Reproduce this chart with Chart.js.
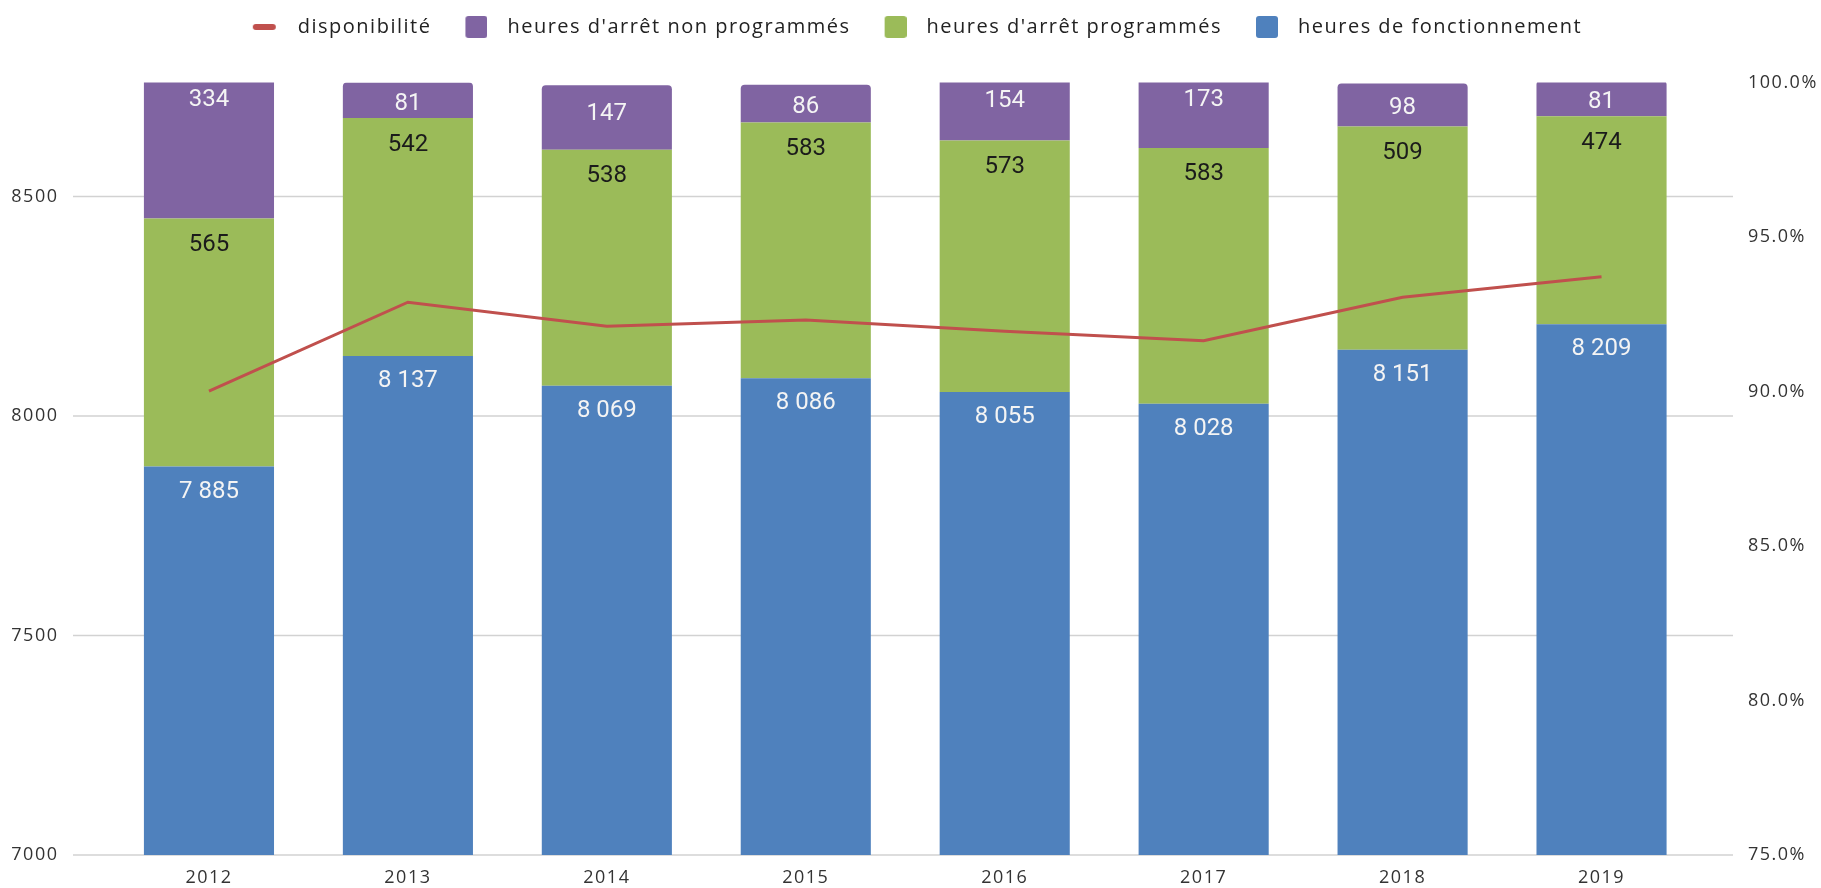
<!DOCTYPE html>
<html lang="fr">
<head>
<meta charset="utf-8">
<title>Disponibilité</title>
<script src="https://cdn.jsdelivr.net/npm/chart.js@4.4.1/dist/chart.umd.min.js"></script>
<style>
  html, body { margin: 0; padding: 0; background: #fff; }
  #wrap { width: 1821px; height: 888px; }
</style>
</head>
<body>
<div id="wrap"><canvas id="dispoChart" width="1821" height="888"></canvas></div>
<script>
// Heures par année
const years = ['2012', '2013', '2014', '2015', '2016', '2017', '2018', '2019'];
const heuresFonctionnement = [7885, 8137, 8069, 8086, 8055, 8028, 8151, 8209];
const arretsProgrammes = [565, 542, 538, 583, 573, 583, 509, 474];
const arretsNonProgrammes = [334, 81, 147, 86, 154, 173, 98, 81];
const disponibilite = [90.01, 92.89, 92.11, 92.31, 91.95, 91.64, 93.05, 93.71];

const heuresTicks = [7000, 7500, 8000, 8500];
const dispoTicks = [75, 80, 85, 90, 95, 100];
const heuresParAn = 8760;

const BLUE = '#4f81bd', GREEN = '#9bbb59', PURPLE = '#8064a2', RED = '#c0504d';

Chart.defaults.font.family = "'Open Sans', sans-serif";
Chart.defaults.color = '#333';

function formatHeures(n) {
  return String(n).replace(/\B(?=(\d{3})+(?!\d))/g, ' ');
}

// small canvases used as legend markers
function legendMarker(color, kind) {
  const c = document.createElement('canvas');
  c.width = 29; c.height = 22;
  const g = c.getContext('2d');
  g.fillStyle = color;
  g.strokeStyle = color;
  if (kind === 'line') {
    g.lineWidth = 6; g.lineCap = 'round';
    g.beginPath(); g.moveTo(7, 11); g.lineTo(24, 11); g.stroke();
  } else {
    g.beginPath(); g.roundRect(7, 0, 22, 22, 3); g.fill();
  }
  return c;
}
const markers = [legendMarker(RED, 'line'), legendMarker(BLUE), legendMarker(GREEN), legendMarker(PURPLE)];
const legendOrder = [0, 3, 2, 1];

const textSpacing = {
  id: 'textSpacing',
  beforeLayout(chart) { chart.ctx.letterSpacing = '1.5px'; },
  beforeDraw(chart) { chart.ctx.letterSpacing = '1.5px'; }
};

// extra room between legend and plot
const legendSpacing = {
  id: 'legendSpacing',
  beforeInit(chart) {
    const fit = chart.legend.fit;
    chart.legend.fit = function () { fit.call(this); this.height += 35.5; };
  }
};

// horizontal grid lines run a bit past the plot on both sides
const gridLines = {
  id: 'gridLines',
  beforeDatasetsDraw(chart) {
    const { ctx, chartArea, scales: { y } } = chart;
    ctx.save();
    ctx.strokeStyle = '#d2d2d2';
    ctx.lineWidth = 1.5;
    y.ticks.forEach(t => {
      const py = y.getPixelForValue(t.value);
      ctx.beginPath();
      ctx.moveTo(chartArea.left - 36.5, py);
      ctx.lineTo(chartArea.right + 32, py);
      ctx.stroke();
    });
    ctx.restore();
  }
};

// value written near the top of each bar segment
const segmentLabels = {
  id: 'segmentLabels',
  afterDatasetsDraw(chart) {
    const { ctx, chartArea: a } = chart;
    ctx.save();
    ctx.beginPath();
    ctx.rect(a.left, a.top, a.right - a.left, a.bottom - a.top);
    ctx.clip();
    ctx.letterSpacing = '0px';
    ctx.font = '24px Roboto';
    ctx.textAlign = 'center';
    ctx.textBaseline = 'middle';
    chart.data.datasets.forEach((ds, i) => {
      if (ds.type === 'line') return;
      const shift = ds.labelShift || 0;
      chart.getDatasetMeta(i).data.forEach((bar, j) => {
        const h = bar.base - bar.y;
        ctx.fillStyle = ds.labelColor;
        ctx.fillText(formatHeures(ds.data[j]), bar.x, bar.y + Math.min(25, h / 2) + shift);
      });
    });
    ctx.restore();
  }
};

// fixed axis widths; vertical label padding kept small so the plot keeps its height
function sideAxisFit(width) {
  return scale => {
    scale.width = width;
    scale.paddingTop = 11;
    scale.paddingBottom = 11;
  };
}

new Chart(document.getElementById('dispoChart'), {
  data: {
    labels: years,
    datasets: [
      {
        type: 'line',
        label: 'disponibilité',
        data: disponibilite,
        yAxisID: 'y1',
        borderColor: RED,
        backgroundColor: RED,
        borderWidth: 3,
        pointRadius: 0,
        tension: 0
      },
      {
        type: 'bar',
        label: 'heures de fonctionnement',
        data: heuresFonctionnement,
        backgroundColor: BLUE,
        labelColor: '#f4f4f4'
      },
      {
        type: 'bar',
        label: "heures d'arrêt programmés",
        data: arretsProgrammes,
        backgroundColor: GREEN,
        labelColor: '#1b1b1b',
        labelShift: 1.5
      },
      {
        type: 'bar',
        label: "heures d'arrêt non programmés",
        data: arretsNonProgrammes,
        backgroundColor: PURPLE,
        borderRadius: { topLeft: 4, topRight: 4 },
        borderSkipped: 'start',
        labelColor: '#f4f4f4',
        labelShift: 3.5
      }
    ]
  },
  options: {
    responsive: false,
    animation: false,
    layout: { padding: 0 },
    datasets: {
      bar: { categoryPercentage: 1, barPercentage: 0.654 }
    },
    plugins: {
      tooltip: { enabled: false },
      legend: {
        position: 'top',
        labels: {
          usePointStyle: true,
          pointStyleWidth: 49,
          boxHeight: 20,
          padding: 17,
          color: '#222',
          font: { size: 20 },
          sort: (a, b) => legendOrder.indexOf(a.datasetIndex) - legendOrder.indexOf(b.datasetIndex),
          generateLabels(chart) {
            const items = Chart.defaults.plugins.legend.labels.generateLabels(chart);
            items.forEach(it => { it.pointStyle = markers[it.datasetIndex]; });
            return items;
          }
        }
      }
    },
    scales: {
      x: {
        stacked: true,
        grid: { display: false, drawTicks: false },
        border: { display: false },
        ticks: { padding: 12, font: { size: 18 } },
        afterFit(scale) { scale.height = 33; }
      },
      y: {
        stacked: true,
        position: 'left',
        min: 7000,
        max: heuresParAn,
        grid: { display: false, drawTicks: false },
        border: { display: false },
        ticks: { padding: 51, font: { size: 18 }, callback: v => String(v) },
        afterBuildTicks(scale) { scale.ticks = heuresTicks.map(v => ({ value: v })); },
        afterFit: sideAxisFit(109.5)
      },
      y1: {
        position: 'right',
        min: 75,
        max: 100,
        grid: { display: false, drawTicks: false },
        border: { display: false },
        ticks: { padding: 47, font: { size: 18 }, callback: v => v.toFixed(1) + '%' },
        afterBuildTicks(scale) { scale.ticks = dispoTicks.map(v => ({ value: v })); },
        afterFit: sideAxisFit(120)
      }
    }
  },
  plugins: [textSpacing, legendSpacing, gridLines, segmentLabels]
});
</script>
</body>
</html>
